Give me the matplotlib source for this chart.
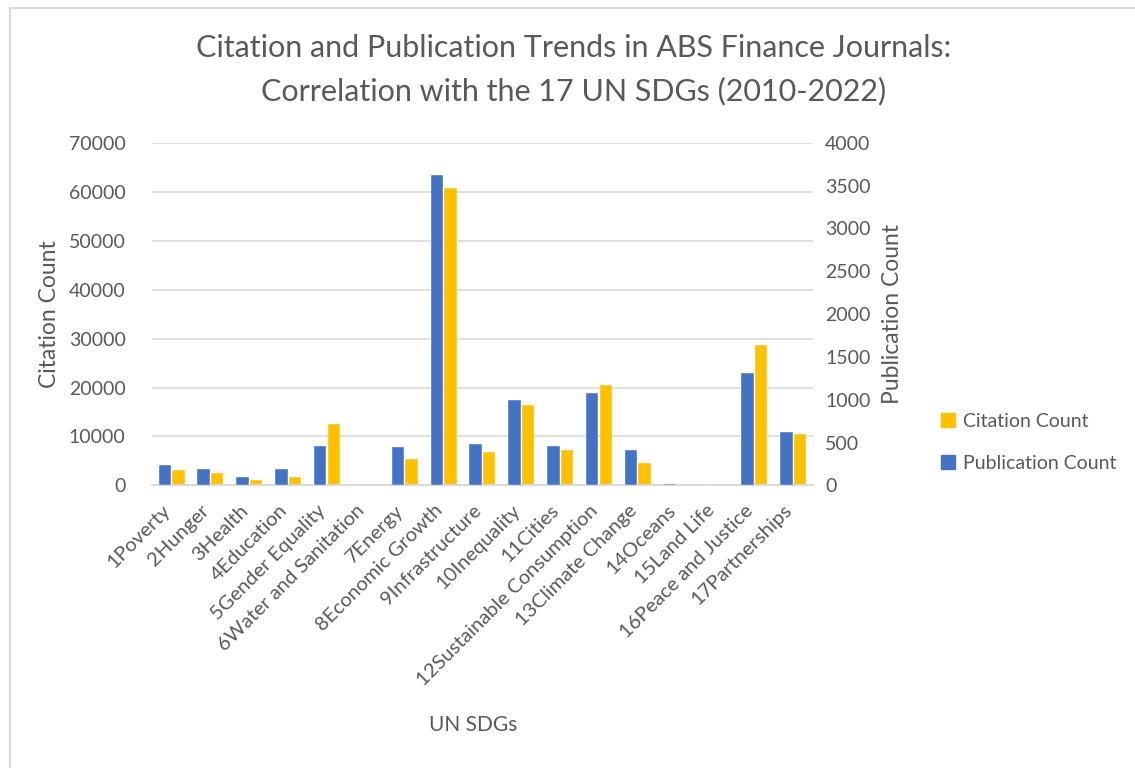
import numpy as np
import matplotlib
matplotlib.use('Agg')
import matplotlib.pyplot as plt
import matplotlib.transforms as mtransforms
from matplotlib.patches import Rectangle, Patch

# Data
sdgs = ['1Poverty', '2Hunger', '3Health', '4Education', '5Gender Equality',
        '6Water and Sanitation', '7Energy', '8Economic Growth', '9Infrastructure',
        '10Inequality', '11Cities', '12Sustainable Consumption', '13Climate Change',
        '14Oceans', '15Land Life', '16Peace and Justice', '17Partnerships']
publications = [233, 195, 97, 195, 458, 0, 453, 3630, 484, 995, 465, 1077, 418, 20, 0, 1308, 620]
citations = [3200, 2500, 1000, 1700, 12600, 0, 5400, 60800, 6900, 16500, 7200, 20500, 4650, 0, 0, 28700, 10400]

cite_ticks = [0, 10000, 20000, 30000, 40000, 50000, 60000, 70000]
pub_ticks = [0, 500, 1000, 1500, 2000, 2500, 3000, 3500, 4000]

blue = '#4472C4'
yellow = '#FFC000'
txt = '#595959'
grid = '#D9D9D9'

plt.rcParams['font.family'] = ['Lato', 'DejaVu Sans']

fig = plt.figure(figsize=(11.35, 7.68), dpi=100)
ax = fig.add_axes([0.134, 0.368, 0.582, 0.446])
ax2 = ax.twinx()

x = np.arange(len(sdgs))
w = 0.32
ax.bar(x + 0.175, citations, w, color=yellow, edgecolor='white', linewidth=0.3, zorder=3)
ax2.bar(x - 0.175, publications, w, color=blue, edgecolor='white', linewidth=0.3, zorder=3)

ax.set_ylim(0, 70000)
ax2.set_ylim(0, 4000)
ax.set_xlim(-0.5, len(sdgs) - 0.5)
ax.set_yticks(cite_ticks)
ax2.set_yticks(pub_ticks)
ax.set_yticklabels([str(t) for t in cite_ticks])
ax2.set_yticklabels([str(t) for t in pub_ticks])

ax.yaxis.grid(True, color=grid, linewidth=1.2, zorder=0)
ax.set_axisbelow(True)
for a in (ax, ax2):
    for s in ('left', 'right', 'top'):
        a.spines[s].set_visible(False)
    a.spines['bottom'].set_color(grid)
    a.spines['bottom'].set_linewidth(1.2)
    a.tick_params(axis='y', length=0, labelsize=14, labelcolor=txt)
ax.tick_params(axis='y', pad=19)
ax2.tick_params(axis='y', pad=9)
ax.tick_params(axis='x', length=0, labelsize=14.5, labelcolor=txt, pad=6)

ax.set_xticks(x)
ax.set_xticklabels(sdgs, rotation=45, ha='right', rotation_mode='anchor')
# nudge the rotated labels like the spreadsheet does
shift = mtransforms.ScaledTranslation(-0.10, -0.08, fig.dpi_scale_trans)
for lab in ax.get_xticklabels():
    lab.set_transform(lab.get_transform() + shift)

ax.set_ylabel('Citation Count', fontsize=16.5, color=txt, labelpad=6)
ax2.set_ylabel('Publication Count', fontsize=16.5, color=txt, labelpad=8)
fig.text(0.417, 0.056, 'UN SDGs', fontsize=15, color=txt, ha='center', va='center')

fig.text(0.505, 0.909, 'Citation and Publication Trends in ABS Finance Journals:\nCorrelation with the 17 UN SDGs (2010-2022)',
         fontsize=22, color=txt, ha='center', va='center', linespacing=1.65)

handles = [Patch(color=yellow, label='Citation Count'), Patch(color=blue, label='Publication Count')]
fig.legend(handles=handles, loc='center left', bbox_to_anchor=(0.814, 0.424), frameon=False,
           fontsize=14, labelcolor=txt, handlelength=0.7, handleheight=0.7, handletextpad=0.4,
           labelspacing=1.3)

# chart border like the spreadsheet frame
fig.add_artist(Rectangle((0.009, -0.05), 1.2, 1.04, transform=fig.transFigure,
                         fill=False, edgecolor=grid, linewidth=1.5))

fig.savefig('out.png', dpi=100)
